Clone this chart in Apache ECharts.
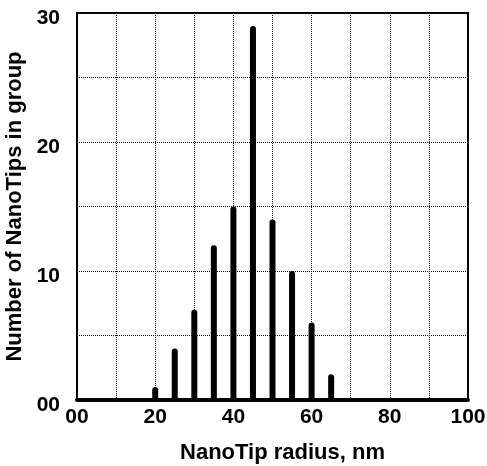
<!DOCTYPE html>
<html>
<head>
<meta charset="utf-8">
<script src="https://cdn.jsdelivr.net/npm/echarts@6/dist/echarts.min.js"></script>
<style>html,body{margin:0;padding:0;background:#fff;}#c{width:487px;height:466px;}</style>
</head>
<body>
<div id="c"></div>
<script>
const radii = [20, 25, 30, 35, 40, 45, 50, 55, 60, 65];
const counts = [1, 4, 7, 12, 15, 29, 14, 10, 6, 2];
const xTitle = 'NanoTip radius, nm';
const yTitle = 'Number of NanoTips in group';

const chart = echarts.init(document.getElementById('c'), null, {renderer: 'canvas'});
const font = '"Liberation Sans", Arial, sans-serif';
const fmt = v => (v === 0 ? '00' : String(v));
chart.setOption({
  animation: false,
  backgroundColor: '#fff',
  grid: {left: 77, right: 19, top: 13, bottom: 66, containLabel: false, outerBoundsMode: 'none',
    show: true, borderColor: '#000', borderWidth: 2, backgroundColor: 'transparent'},
  xAxis: {
    type: 'value', min: 0, max: 100, interval: 10,
    name: xTitle, nameLocation: 'middle', nameGap: 42,
    nameTextStyle: {fontFamily: font, fontWeight: 'bold', fontSize: 22, color: '#000', padding: [0, 0, 0, 20]},
    axisLine: {show: true, lineStyle: {color: '#000', width: 4}},
    axisTick: {show: false},
    axisLabel: {fontFamily: font, fontWeight: 'bold', fontSize: 21, color: '#000', margin: 7,
      formatter: v => (v % 20 === 0 ? fmt(v) : '')},
    splitLine: {show: true, lineStyle: {color: '#111', type: [1, 1], width: 1}}
  },
  yAxis: {
    type: 'value', min: 0, max: 30, interval: 5,
    name: yTitle, nameLocation: 'middle', nameGap: 45,
    nameTextStyle: {fontFamily: font, fontWeight: 'bold', fontSize: 22, color: '#000'},
    axisLine: {show: true, lineStyle: {color: '#000', width: 2}},
    axisTick: {show: false},
    axisLabel: {fontFamily: font, fontWeight: 'bold', fontSize: 21, color: '#000', margin: 17,
      verticalAlign: 'top', lineHeight: 10,
      formatter: v => (v % 10 === 0 ? fmt(v) : '')},
    splitLine: {show: true, lineStyle: {color: '#111', type: [1, 1], width: 1}}
  },
  series: [{
    type: 'bar',
    data: radii.map((r, i) => [r, counts[i]]),
    barWidth: 6,
    itemStyle: {color: '#000', borderRadius: [3, 3, 0, 0]}
  }]
});
</script>
</body>
</html>
